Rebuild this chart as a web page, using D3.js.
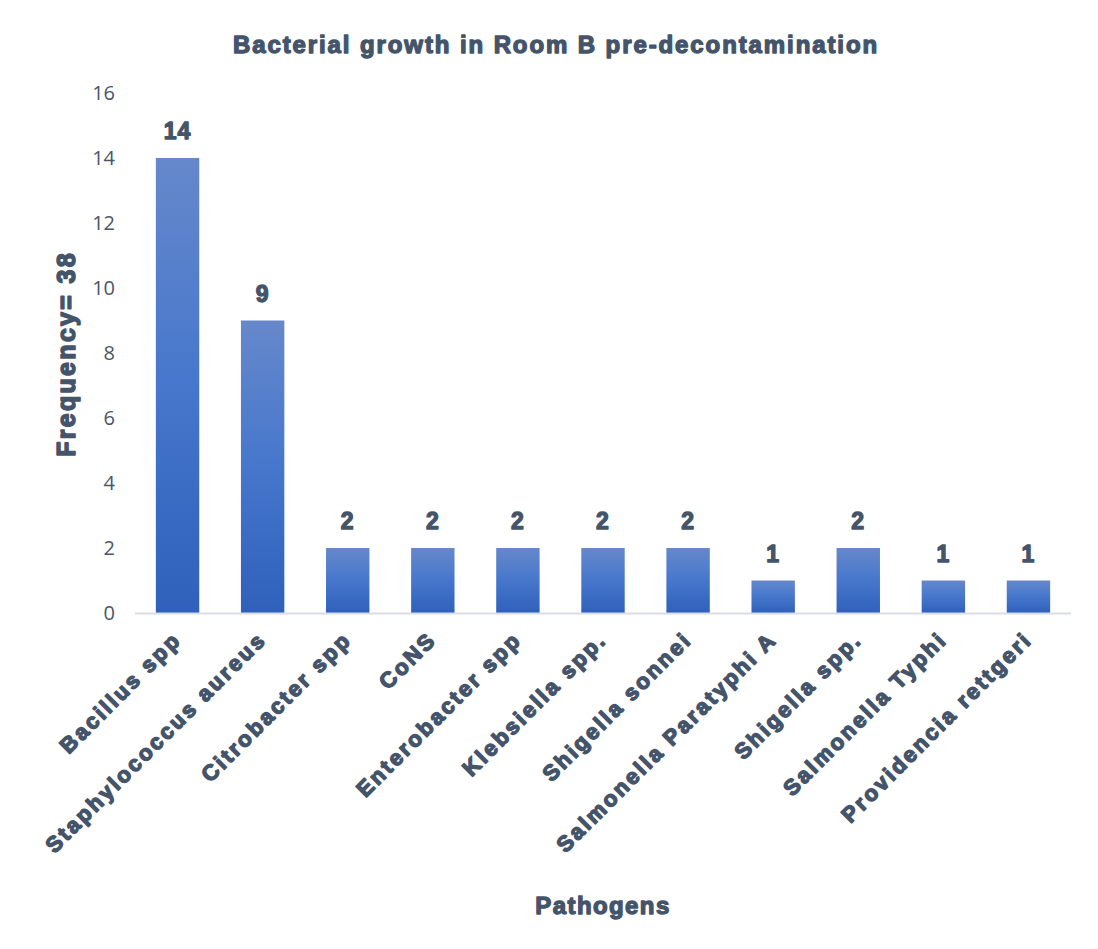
<!DOCTYPE html>
<html><head><meta charset="utf-8">
<script src="https://cdn.jsdelivr.net/npm/d3@7"></script>
<style>body{margin:0;background:#fff}</style>
</head><body>
<script>
const categories = ["Bacillus spp","Staphylococcus aureus","Citrobacter spp","CoNS","Enterobacter spp","Klebsiella spp.","Shigella sonnei","Salmonella Paratyphi A","Shigella spp.","Salmonella Typhi","Providencia rettgeri"];
const values = [14,9,2,2,2,2,2,1,2,1,1];
const yTicks = [0,2,4,6,8,10,12,14,16];
const title = "Bacterial growth in Room B pre-decontamination";
const yTitle = "Frequency= 38";
const xTitle = "Pathogens";

(function(){
const W=1098,H=949;
const textCol="#44546a";
const svg=d3.select("body").append("svg").attr("width",W).attr("height",H);
svg.append("rect").attr("width",W).attr("height",H).attr("fill","#fff");
const pL=135,pR=1071,pT=93,pB=613;
const x=d3.scaleBand().domain(categories).range([pL,pR]).paddingInner(0.49).paddingOuter(0.245);
const y=d3.scaleLinear().domain([0,16]).range([pB,pT]);

const defs=svg.append("defs");
const g=defs.append("linearGradient").attr("id","bg").attr("x1",0).attr("y1",0).attr("x2",0).attr("y2",1);
g.append("stop").attr("offset","0%").attr("stop-color","#6688cb");
g.append("stop").attr("offset","50%").attr("stop-color","#4677cc");
g.append("stop").attr("offset","100%").attr("stop-color","#2f60bb");

const heavy = (s,sw)=>s.attr("font-family","'Liberation Sans',Arial,sans-serif").attr("font-weight","bold").attr("fill",textCol).attr("stroke",textCol).attr("stroke-width",sw||1.3).attr("stroke-linejoin","round");

const ya=svg.append("g").attr("transform",`translate(${pL},0)`).call(d3.axisLeft(y).tickValues(yTicks).tickSize(0).tickPadding(20));
ya.select(".domain").remove();
ya.selectAll("text").attr("font-family","'Open Sans','Liberation Sans',Arial,sans-serif").attr("font-size",20).attr("fill","#4a5568");

svg.selectAll("rect.bar").data(values).join("rect").attr("class","bar")
 .attr("x",(d,i)=>x(categories[i])).attr("width",x.bandwidth())
 .attr("y",d=>y(d)).attr("height",d=>y(0)-y(d)).attr("fill","url(#bg)");

svg.append("line").attr("x1",pL).attr("x2",pR).attr("y1",pB+0.5).attr("y2",pB+0.5).attr("stroke","#d9dee6").attr("stroke-width",2);

heavy(svg.selectAll("text.val").data(values).join("text").attr("class","val")
 .attr("x",(d,i)=>x(categories[i])+x.bandwidth()/2).attr("y",d=>y(d)-19)
 .attr("text-anchor","middle").attr("font-size",23).attr("letter-spacing",1).text(d=>d));

heavy(svg.selectAll("text.xl").data(categories).join("text").attr("class","xl")
 .attr("transform",d=>`translate(${x(d)+x.bandwidth()/2+5},${pB+28}) rotate(-45)`)
 .attr("text-anchor","end").attr("font-size",22).attr("letter-spacing",2.6).text(d=>d), 1.4);

heavy(svg.append("text").attr("x",556).attr("y",53).attr("text-anchor","middle").attr("font-size",24).attr("letter-spacing",1.9).text(title));
heavy(svg.append("text").attr("transform","translate(75,354) rotate(-90)").attr("text-anchor","middle").attr("font-size",25).attr("letter-spacing",2.3).text(yTitle), 1.5);
heavy(svg.append("text").attr("x",603).attr("y",914).attr("text-anchor","middle").attr("font-size",24).attr("letter-spacing",1.4).text(xTitle));
})();
</script>
</body></html>
